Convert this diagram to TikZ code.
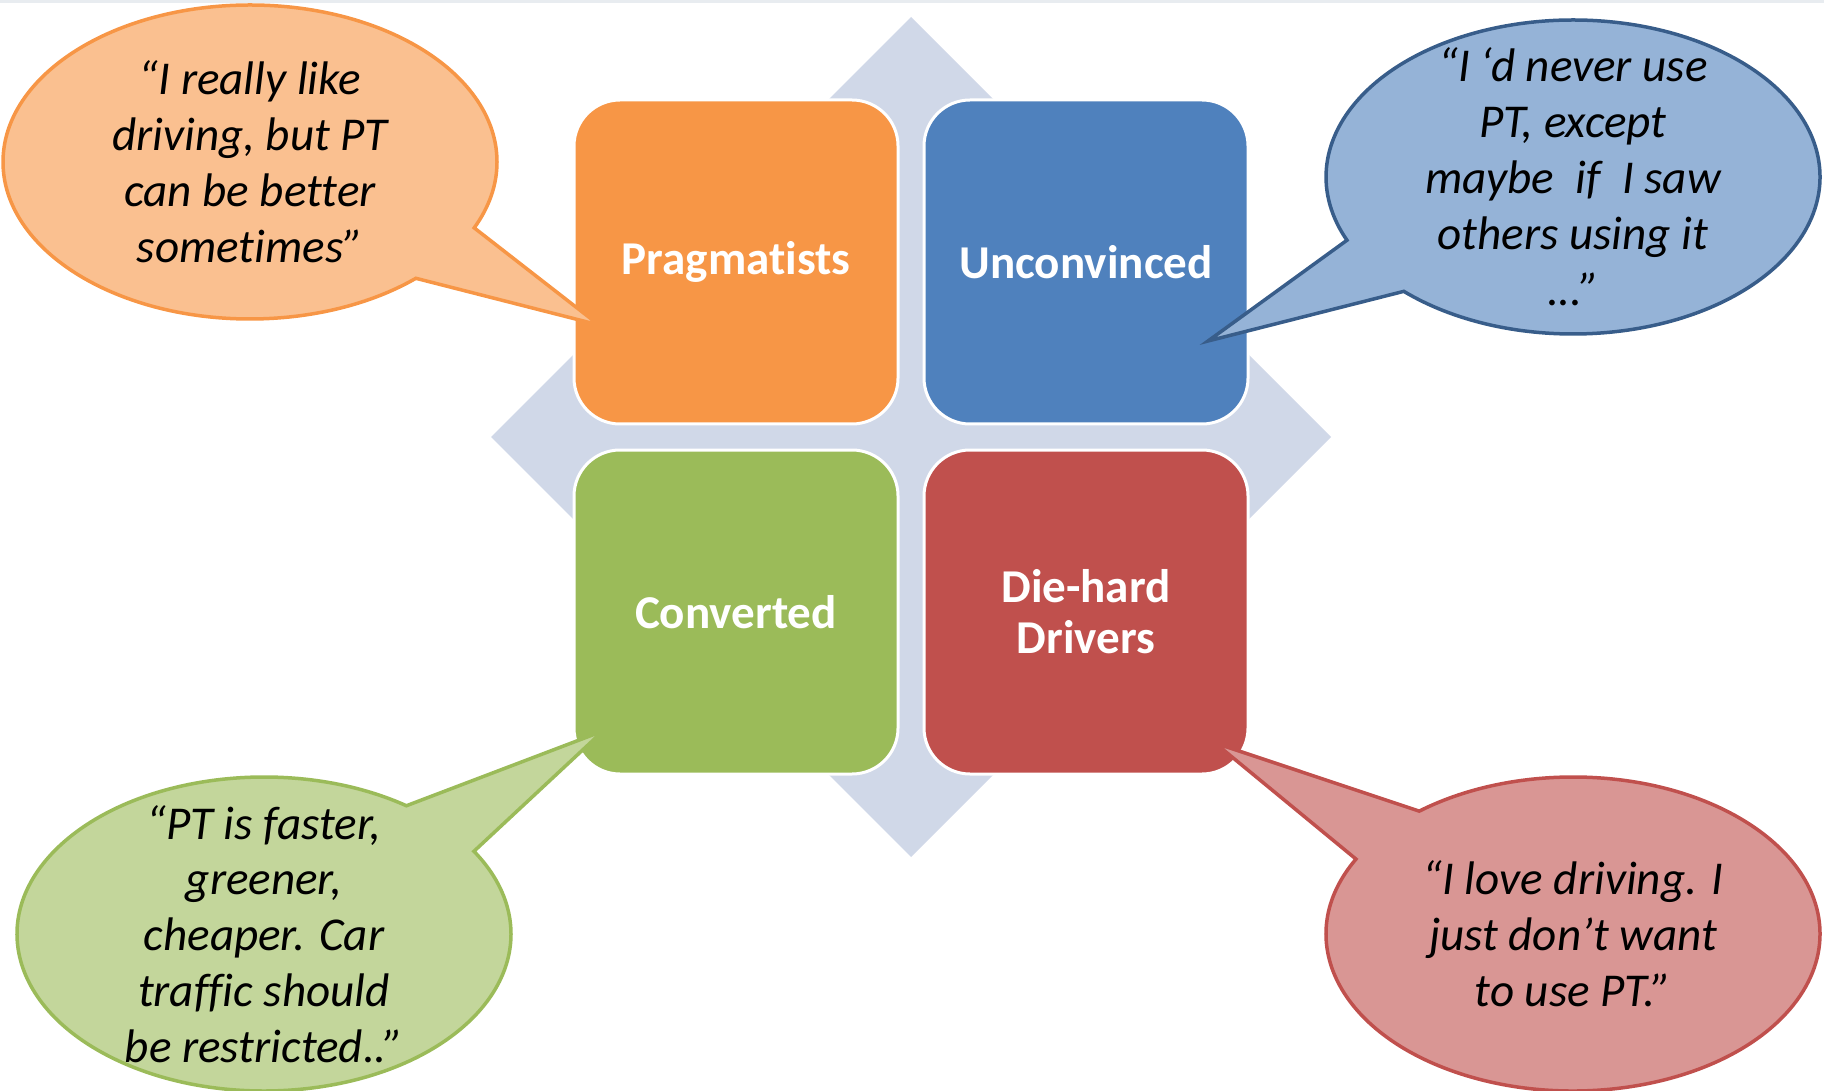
\documentclass[tikz,border=0pt]{standalone}
\usepackage{fontspec}
\setmainfont{Carlito}[Ligatures=NoCommon]
\usetikzlibrary{shapes.callouts}

\definecolor{pragcol}{HTML}{F79646}
\definecolor{pragtint}{HTML}{FAC090}
\definecolor{unconcol}{HTML}{4F81BD}
\definecolor{unconline}{HTML}{385D8A}
\definecolor{uncontint}{HTML}{95B3D7}
\definecolor{convcol}{HTML}{9BBB59}
\definecolor{convtint}{HTML}{C3D69B}
\definecolor{diecol}{HTML}{C0504D}
\definecolor{dietint}{HTML}{D99694}
\definecolor{crosscol}{HTML}{D0D8E8}
\definecolor{edgecol}{HTML}{E8ECF0}

\tikzset{
  seg/.style={rectangle, rounded corners=4.6mm, draw=white, line width=0.3mm,
    minimum width=32.4mm, minimum height=32.4mm, text=white, align=center,
    font=\bfseries\fontsize{13.4}{14.5}\selectfont},
  bubble/.style={ellipse callout, callout pointer arc=23, line width=0.35mm,
    minimum width=49.4mm, minimum height=31.4mm, inner sep=0pt},
  quote/.style={align=center, font=\itshape\fontsize{13.4}{15.9}\selectfont}
}

\begin{document}
\begin{tikzpicture}[x=0.1mm, y=-0.1mm]
  \useasboundingbox (0,0) rectangle (1824,1091);
  \fill[edgecol] (0,0) rectangle (1824,3);

  % cross behind the four segments
  \fill[crosscol] (911,17) -- (1331,437) -- (911,857) -- (491,437) -- cycle;

  \node[seg, fill=pragcol] (prag) at (736,262) {Pragmatists};
  \node[seg, fill=unconcol] (uncon) at (1086,262) {Unconvinced};
  \node[seg, fill=convcol] (conv) at (736,612) {Converted};
  \node[seg, fill=diecol] (die) at (1086,612) {Die-hard\\Drivers};

  % where the callouts point to
  \coordinate (tipP) at (599,325);
  \coordinate (tipU) at (1208,341);
  \coordinate (tipC) at (603,731);
  \coordinate (tipD) at (1215,743);

  \node[bubble, fill=pragtint, draw=pragcol, callout absolute pointer={(tipP)}]
    (sayP) at (250,162) {};
  \node[quote] at (sayP.center) {“I really like\\driving, but PT\\can be better\\sometimes”};

  \node[bubble, fill=uncontint, draw=unconline, callout absolute pointer={(tipU)}]
    (sayU) at (1573,177) {};
  \node[quote] at (sayU.center) {“I ‘d never use\\PT, except\\maybe\ \ if\ \ I saw\\others using it\\...”};

  \node[bubble, fill=convtint, draw=convcol, callout absolute pointer={(tipC)}]
    (sayC) at (264,934) {};
  \node[quote] at (sayC.center) {“PT is faster,\\greener,\\cheaper. Car\\traffic should\\be restricted..”};

  \node[bubble, fill=dietint, draw=diecol, callout absolute pointer={(tipD)}]
    (sayD) at (1573,934) {};
  \node[quote] at (sayD.center) {“I love driving. I\\just don’t want\\to use PT.”};
\end{tikzpicture}
\end{document}
